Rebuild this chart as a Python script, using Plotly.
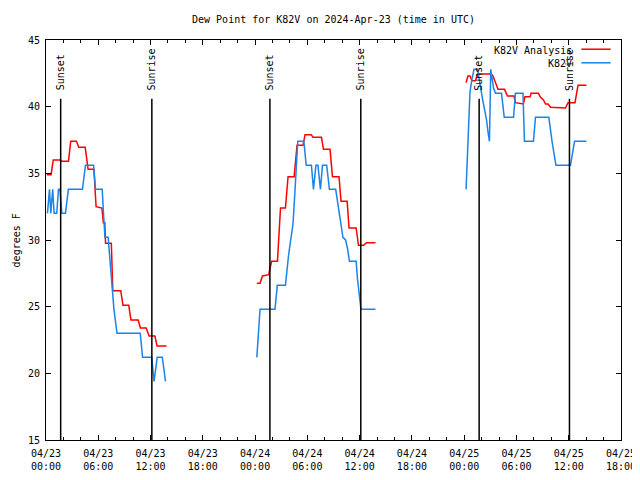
import plotly.graph_objects as go

# ---- K82V observations (deg F) ----
obs1_t = ["2024-04-23 00:10","2024-04-23 00:24","2024-04-23 00:33","2024-04-23 00:46","2024-04-23 00:56",
          "2024-04-23 01:14","2024-04-23 01:26","2024-04-23 01:36","2024-04-23 01:49","2024-04-23 02:14",
          "2024-04-23 02:34","2024-04-23 04:11","2024-04-23 04:32","2024-04-23 05:28","2024-04-23 05:41",
          "2024-04-23 06:27","2024-04-23 06:36","2024-04-23 06:46","2024-04-23 07:08","2024-04-23 07:21",
          "2024-04-23 07:34","2024-04-23 07:48","2024-04-23 08:09","2024-04-23 10:49","2024-04-23 11:05",
          "2024-04-23 12:08","2024-04-23 12:24","2024-04-23 12:46","2024-04-23 13:21","2024-04-23 13:43"]
obs1_v = [32.0,33.8,32.0,33.8,32.0, 32.0,33.8,33.8,32.0,32.0, 33.8,33.8,35.6,35.6,33.8,
          33.8,32.0,30.2,30.2,28.4, 26.6,24.8,23.0,23.0,21.2, 21.2,19.4,21.2,21.2,19.4]

obs2_t = ["2024-04-24 00:12","2024-04-24 00:24","2024-04-24 00:34","2024-04-24 02:17","2024-04-24 02:33",
          "2024-04-24 03:29","2024-04-24 03:40","2024-04-24 03:50","2024-04-24 04:00","2024-04-24 04:11",
          "2024-04-24 04:21","2024-04-24 04:31","2024-04-24 04:42","2024-04-24 04:54","2024-04-24 05:36",
          "2024-04-24 05:52","2024-04-24 06:28","2024-04-24 06:42","2024-04-24 06:59","2024-04-24 07:13",
          "2024-04-24 07:30","2024-04-24 07:44","2024-04-24 08:13","2024-04-24 08:32","2024-04-24 09:15",
          "2024-04-24 09:28","2024-04-24 09:41","2024-04-24 09:55","2024-04-24 10:05","2024-04-24 10:23",
          "2024-04-24 10:36","2024-04-24 10:50","2024-04-24 11:36","2024-04-24 11:45","2024-04-24 11:52",
          "2024-04-24 11:59","2024-04-24 12:09","2024-04-24 13:49"]
obs2_v = [21.2,23.0,24.8,24.8,26.6, 26.6,28.0,28.8,29.6,30.5, 31.2,33.0,35.5,37.4,37.4,
          35.6,35.6,33.8,35.6,35.6, 33.8,35.6,35.6,33.8,33.8, 32.9,32.0,31.1,30.2,30.0,
          29.4,28.4,28.4,27.1,26.4, 25.6,24.8,24.8]

obs3_t = ["2024-04-25 00:13","2024-04-25 00:22","2024-04-25 00:30","2024-04-25 00:40","2024-04-25 00:54",
          "2024-04-25 01:08","2024-04-25 01:32","2024-04-25 01:42","2024-04-25 01:56","2024-04-25 02:06",
          "2024-04-25 02:20","2024-04-25 02:34","2024-04-25 02:44","2024-04-25 02:54","2024-04-25 03:03",
          "2024-04-25 03:13","2024-04-25 03:22","2024-04-25 03:36","2024-04-25 04:17","2024-04-25 04:36",
          "2024-04-25 05:40","2024-04-25 05:53","2024-04-25 06:45","2024-04-25 06:55","2024-04-25 07:57",
          "2024-04-25 08:11","2024-04-25 09:43","2024-04-25 10:05","2024-04-25 10:19","2024-04-25 10:32",
          "2024-04-25 12:12","2024-04-25 12:26","2024-04-25 12:40","2024-04-25 14:02"]
obs3_v = [33.8,36.5,39.3,41.1,42.1, 42.8,42.8,42.1,41.3,40.6, 39.8,39.0,38.1,37.4,42.8,
          42.1,41.4,41.0,41.0,39.2, 39.2,41.0,41.0,37.4,37.4, 39.2,39.2,37.4,36.5,35.6,
          35.6,36.5,37.4,37.4]

# ---- K82V analysis (deg F) ----
ana1_t = ["2024-04-23 00:05","2024-04-23 00:35","2024-04-23 00:50","2024-04-23 01:40","2024-04-23 01:45",
          "2024-04-23 02:35","2024-04-23 02:50","2024-04-23 03:30","2024-04-23 03:35","2024-04-23 03:45",
          "2024-04-23 04:30","2024-04-23 04:40","2024-04-23 04:50","2024-04-23 05:30","2024-04-23 05:45",
          "2024-04-23 06:25","2024-04-23 06:35","2024-04-23 06:45","2024-04-23 06:50","2024-04-23 07:30",
          "2024-04-23 07:40","2024-04-23 08:35","2024-04-23 08:50","2024-04-23 09:30","2024-04-23 09:45",
          "2024-04-23 10:35","2024-04-23 10:50","2024-04-23 11:30","2024-04-23 11:50","2024-04-23 12:30",
          "2024-04-23 12:45","2024-04-23 13:50"]
ana1_v = [34.9,34.9,36.0,36.0,35.9, 35.9,37.4,37.4,37.25,36.95, 36.95,36.0,35.3,35.3,32.5,
          32.4,31.3,31.3,29.75,29.75, 26.2,26.2,25.1,25.1,24.0, 24.0,23.4,23.4,22.8,22.8,
          22.05,22.05]

ana2_t = ["2024-04-24 00:12","2024-04-24 00:34","2024-04-24 00:51","2024-04-24 01:34","2024-04-24 01:43",
          "2024-04-24 01:54","2024-04-24 02:34","2024-04-24 02:45","2024-04-24 02:55","2024-04-24 03:29",
          "2024-04-24 03:47","2024-04-24 04:29","2024-04-24 04:42","2024-04-24 04:49","2024-04-24 05:30",
          "2024-04-24 05:44","2024-04-24 06:27","2024-04-24 06:39","2024-04-24 07:37","2024-04-24 07:51",
          "2024-04-24 08:36","2024-04-24 08:53","2024-04-24 09:38","2024-04-24 09:52","2024-04-24 10:34",
          "2024-04-24 10:47","2024-04-24 11:36","2024-04-24 11:42","2024-04-24 11:52","2024-04-24 12:28",
          "2024-04-24 12:47","2024-04-24 13:49"]
ana2_v = [26.75,26.75,27.3,27.4,27.9, 28.4,28.4,30.4,32.4,32.4, 34.75,34.75,36.8,37.1,37.1,
          37.9,37.9,37.7,37.7,36.8, 36.8,34.75,34.75,32.9,32.9, 30.9,30.9,30.25,29.6,29.6,
          29.8,29.8]

ana3_t = ["2024-04-25 00:13","2024-04-25 00:26","2024-04-25 00:40","2024-04-25 00:54","2024-04-25 01:18",
          "2024-04-25 01:32","2024-04-25 03:05","2024-04-25 03:18","2024-04-25 03:32","2024-04-25 03:53",
          "2024-04-25 04:38","2024-04-25 04:58","2024-04-25 05:43","2024-04-25 05:53","2024-04-25 06:48",
          "2024-04-25 06:59","2024-04-25 07:34","2024-04-25 07:40","2024-04-25 08:31","2024-04-25 08:46",
          "2024-04-25 09:06","2024-04-25 09:20","2024-04-25 09:37","2024-04-25 09:55","2024-04-25 11:38",
          "2024-04-25 11:55","2024-04-25 12:43","2024-04-25 13:04","2024-04-25 14:02"]
ana3_v = [41.8,42.3,42.3,41.95,41.95, 42.45,42.45,42.3,41.9,41.3, 41.3,40.8,40.8,40.3,40.2,
          40.75,40.75,41.0,41.0,40.7, 40.5,40.2,40.2,39.95,39.9, 40.3,40.3,41.6,41.6]

sunset_t = ["2024-04-23 01:41", "2024-04-24 01:42", "2024-04-25 01:43"]
sunrise_t = ["2024-04-23 12:09", "2024-04-24 12:08", "2024-04-25 12:05"]

title_text = "Dew Point for K82V on 2024-Apr-23 (time in UTC)"
ylabel_text = "degrees F"
series_names = ["K82V Analysis", "K82V"]
x_range = ["2024-04-23 00:00", "2024-04-25 18:00"]
y_range = [15, 45]

RED = "#ff0000"
BLUE = "#1a84ea"
FONT = "DejaVu Sans Mono"


def join(*segs):
    xs, ys = [], []
    for i, (t, v) in enumerate(segs):
        if i:
            xs.append(None)
            ys.append(None)
        xs += t
        ys += v
    return xs, ys


fig = go.Figure()
ax_, ay_ = join((ana1_t, ana1_v), (ana2_t, ana2_v), (ana3_t, ana3_v))
ox_, oy_ = join((obs1_t, obs1_v), (obs2_t, obs2_v), (obs3_t, obs3_v))
fig.add_trace(go.Scatter(x=ax_, y=ay_, mode="lines", name=series_names[0],
                         line=dict(color=RED, width=1.5), showlegend=False))
fig.add_trace(go.Scatter(x=ox_, y=oy_, mode="lines", name=series_names[1],
                         line=dict(color=BLUE, width=1.5), showlegend=False))

LINE_TOP = 40.6
LABEL_Y = 41.05
for lab, times in (("Sunset", sunset_t), ("Sunrise", sunrise_t)):
    for t in times:
        fig.add_shape(type="line", xref="x", yref="y", x0=t, x1=t, y0=y_range[0], y1=LINE_TOP,
                      line=dict(color="black", width=1.5), layer="above")
        fig.add_annotation(x=t, y=LABEL_Y, xref="x", yref="y", text=lab, showarrow=False,
                           textangle=-90, xanchor="center", yanchor="bottom",
                           font=dict(family=FONT, size=10, color="black"))

# legend drawn gnuplot-style: text right-aligned, sample line to the right
for i, (name, col) in enumerate(zip(series_names, [RED, BLUE])):
    yp = 0.975 - i * 0.034
    fig.add_annotation(x=0.918, y=yp, xref="paper", yref="paper", text=name, showarrow=False,
                       xanchor="right", yanchor="middle",
                       font=dict(family=FONT, size=10, color="black"))
    fig.add_shape(type="line", xref="paper", yref="paper", x0=0.931, x1=0.982, y0=yp + 0.002, y1=yp + 0.002,
                  line=dict(color=col, width=1.5))

fig.add_annotation(x=-0.0645, y=0.5, xref="paper", yref="paper", text=ylabel_text, showarrow=False,
                   textangle=-90, xanchor="left", yanchor="middle",
                   font=dict(family=FONT, size=10, color="black"))

fig.update_layout(
    width=640, height=480,
    margin=dict(l=38, r=19, t=32, b=48),
    paper_bgcolor="white", plot_bgcolor="white",
    font=dict(family=FONT, size=10, color="black"),
    title=dict(text=title_text, x=0.5, xref="paper", y=1 - 11 / 480, yref="container",
               xanchor="center", yanchor="middle", font=dict(family=FONT, size=10, color="black")),
    xaxis=dict(type="date", range=x_range, tick0="2024-04-23 00:00", dtick=6 * 3600000,
               tickformat="%m/%d<br>%H:%M", ticks="inside", ticklen=5, tickcolor="black",
               showline=True, linecolor="black", linewidth=1, mirror="ticks",
               showgrid=False, zeroline=False, ticklabelstandoff=4,
               minor=dict(dtick=2 * 3600000, ticks="inside", ticklen=3, tickcolor="black", showgrid=False)),
    yaxis=dict(range=y_range, dtick=5, ticks="inside", ticklen=5, tickcolor="black",
               showline=True, linecolor="black", linewidth=1, mirror="ticks",
               showgrid=False, zeroline=False, ticklabelstandoff=3),
)

fig.write_html("out.html")
